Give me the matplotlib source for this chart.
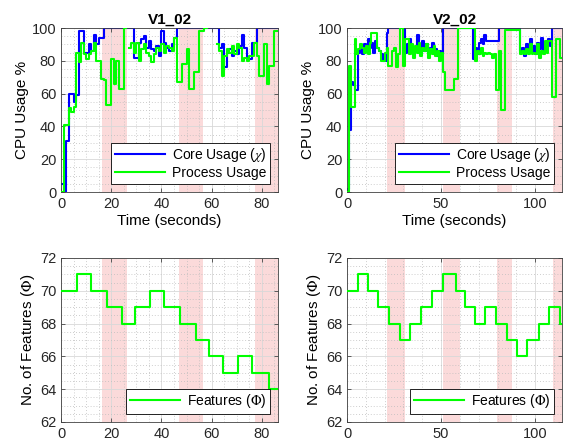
import matplotlib
matplotlib.use('Agg')
import matplotlib.pyplot as plt
from matplotlib.ticker import AutoMinorLocator, MultipleLocator
import numpy as np

nan = np.nan

# ---- 数据 (每秒一个采样, 阶梯显示) ----
v1_core = [5, 0, 31, 60, 60, 55, 59, 98, 98, 85,
           85, 90, 86, 96, 90, 94, 94, 100, 100, 100,
           100, 100, 100, 100, 100, 100, 100, 100, 100, 82,
           82, 91, 93, 95, 88, 92, 87, 86, 89, 83,
           98, 91, 88, 86, 90, 94, 100, 100, 100, 100,
           100, 100, 100, 100, 100, 100, 100, 100, 100, 100,
           100, 100, 100, 88, 90, 76, 85, 87, 83, 86,
           84, 89, 96, 88, 81, 81, 91, 91, 100, 100,
           100, 100, 100, 100, 100, 100]
v1_proc = [0, 41, 41, 51, 49, 52, 85, 79, 91, 84,
           81, 84, 86, 91, 80, 80, 69, 68, 53, 53,
           81, 66, 80, 63, 63, 100, nan, 88, 91, 85,
           91, 80, 87, 90, 85, 83, 79, 84, 88, 86,
           90, 85, 89, 88, 86, 94, 67, 67, 78, 78,
           87, 63, 63, 73, 73, 98, 98, 100, nan, nan,
           nan, nan, 90, 86, 71, 83, 87, 85, 89, 84,
           90, 88, 80, 82, 80, 83, 83, 91, 83, 71,
           71, 90, 66, 77, 77, 98]

v2_core = [2, 38, 67, 65, 62, 62, 85, 88, 84, 90,
           86, 93, 88, 91, 85, 92, 88, 86, 84, 80,
           80, 97, 100, 100, 100, 100, 100, 100, 100, 100,
           100, 85, 90, 93, 88, 85, 86, 96, 88, 84,
           92, 86, 90, 85, 88, 91, 85, 87, 83, 86,
           84, 100, 100, 100, 100, 100, 100, 100, 100, 100,
           100, 100, 100, 100, 100, 100, 100, 81, 88, 84,
           91, 93, 90, 96, 92, 92, 92, 92, 92, 92,
           92, 100, 100, 100, 100, 100, 100, 100, 100, 100,
           100, 100, 86, 88, 83, 90, 86, 93, 85, 89,
           84, 91, 87, 94, 86, 91, 88, 93, 89, 100,
           100, 100, 100, 100, 100]
v2_proc = [0, 77, 52, 52, 93, 84, 87, 90, 88, 85,
           89, 84, 91, 97, 97, 97, 88, 86, 80, 80,
           85, 88, 77, 77, 86, 88, 76, 84, 100, 100,
           77, 93, 93, 84, 90, 82, 89, 85, 91, 83,
           88, 86, 90, 82, 87, 84, 89, 83, 86, 80,
           85, 73, 62, 62, 62, 62, 62, 69, 69, 100,
           100, 100, 100, 100, 100, 100, 100, 100, 80, 86,
           84, 88, 83, 85, 84, 85, 84, 82, 84, 62,
           62, 86, 50, 50, 99, 99, 99, 99, 99, 99,
           99, 99, 84, 86, 84, 87, 84, 90, 84, 85,
           84, 90, 82, 86, 84, 92, 85, 92, 92, 58,
           58, 93, 93, 82, 82]

v1_feat_t = [0, 6.2, 11.8, 18.2, 24.2, 29.5, 35.5, 41.1, 47.2, 53.8, 59.1, 64.5, 70.4, 76.0, 82.7]
v1_feat = [70, 71, 70, 69, 68, 69, 70, 69, 68, 67, 66, 65, 66, 65, 64]
v2_feat_t = [0, 5.7, 11.2, 16.5, 22.1, 28.0, 33.6, 39.3, 45.1, 51.0, 57.9,
             62.5, 67.8, 73.1, 79.3, 85.0, 90.3, 95.6, 101.8, 107.1, 113.3]
v2_feat = [70, 71, 70, 69, 68, 67, 68, 69, 70, 71, 70, 69, 68, 69, 68, 67, 66, 67, 68, 69, 68]

# 高亮区间
v1_spans = [(16.5, 26.4), (46.9, 56.7), (77.3, 90)]
v2_spans = [(21.2, 30.8), (50.8, 60.2), (79.7, 87.6), (109.2, 120)]

v1_xmax = 86.4
v2_xmax = 114.2

plt.rcParams['font.family'] = ['Liberation Sans', 'DejaVu Sans']
plt.rcParams['mathtext.fontset'] = 'stix'

fig = plt.figure(figsize=(5.68, 4.45), dpi=100)
W, H = 568, 445


def make_ax(x0, y0, x1, y1):
    return fig.add_axes([x0 / W, 1 - y1 / H, (x1 - x0) / W, (y1 - y0) / H])


def style_ax(ax, xmax, xmajor, xminor_n, ymin, ymax, ymajor):
    ax.set_xlim(0, xmax)
    ax.set_ylim(ymin, ymax)
    ax.xaxis.set_major_locator(MultipleLocator(xmajor))
    ax.xaxis.set_minor_locator(AutoMinorLocator(xminor_n))
    ax.yaxis.set_major_locator(MultipleLocator(ymajor))
    ax.yaxis.set_minor_locator(AutoMinorLocator(4))
    ax.grid(True, which='major', color='#d8d8d8', linewidth=0.6, linestyle='-')
    ax.grid(True, which='minor', color='#bdbdbd', linewidth=0.6, linestyle=(0, (1, 2.5)))
    ax.set_axisbelow(True)
    ax.tick_params(which='both', direction='in', top=True, right=True,
                   labelsize=10.5, colors='#262626', width=0.5)
    ax.tick_params(which='major', length=3)
    ax.tick_params(which='minor', length=0)
    for sp in ax.spines.values():
        sp.set_color('#404040')
        sp.set_linewidth(0.6)


def shade(ax, spans):
    for a, b in spans:
        ax.axvspan(a, b, color='#fbdada', lw=0, zorder=0.5)


def steps(vals):
    t = np.arange(len(vals) + 1)
    v = np.append(np.array(vals, dtype=float), vals[-1])
    return t, v


def cpu_panel(ax, core, proc, spans, xmax, xmajor, xminor_n, title):
    shade(ax, spans)
    t, c = steps(core)
    ax.plot(t, c, drawstyle='steps-post', color=(0, 0, 1), lw=1.5, label=r'Core Usage ($\chi$)', zorder=2)
    t, p = steps(proc)
    ax.plot(t, p, drawstyle='steps-post', color=(0, 1, 0), lw=1.5, label='Process Usage', zorder=3)
    style_ax(ax, xmax, xmajor, xminor_n, 0, 100, 20)
    ax.set_title(title, fontsize=11, fontweight='bold', pad=3)
    ax.set_xlabel('Time (seconds)', fontsize=11, labelpad=2)
    ax.set_ylabel('CPU Usage %', fontsize=11, labelpad=2)
    leg = ax.legend(loc='lower right', fontsize=10, fancybox=False, framealpha=1,
                    edgecolor='black', handlelength=3.6, borderpad=0.25,
                    labelspacing=0.15, handletextpad=0.5, borderaxespad=0.6)
    leg.get_frame().set_linewidth(0.6)


def feat_panel(ax, ft, fv, spans, xmax, xmajor, xminor_n):
    shade(ax, spans)
    t = np.append(ft, xmax + 5)
    v = np.append(fv, fv[-1])
    ax.plot(t, v, drawstyle='steps-post', color=(0, 1, 0), lw=1.5, label=r'Features ($\Phi$)', zorder=3)
    style_ax(ax, xmax, xmajor, xminor_n, 62, 72, 2)
    ax.set_ylabel(r'No. of Features ($\Phi$)', fontsize=11, labelpad=2)
    leg = ax.legend(loc='lower right', fontsize=10, fancybox=False, framealpha=1,
                    edgecolor='black', handlelength=3.6, borderpad=0.25,
                    handletextpad=0.5, borderaxespad=0.6)
    leg.get_frame().set_linewidth(0.6)


ax1 = make_ax(61, 28, 278, 192)
ax2 = make_ax(347, 28, 562, 192)
ax3 = make_ax(61, 258, 278, 422)
ax4 = make_ax(347, 258, 562, 422)

cpu_panel(ax1, v1_core, v1_proc, v1_spans, v1_xmax, 20, 4, 'V1_02')
cpu_panel(ax2, v2_core, v2_proc, v2_spans, v2_xmax, 50, 5, 'V2_02')
feat_panel(ax3, v1_feat_t, v1_feat, v1_spans, v1_xmax, 20, 4)
feat_panel(ax4, v2_feat_t, v2_feat, v2_spans, v2_xmax, 50, 5)

fig.savefig('out.png', dpi=100)
